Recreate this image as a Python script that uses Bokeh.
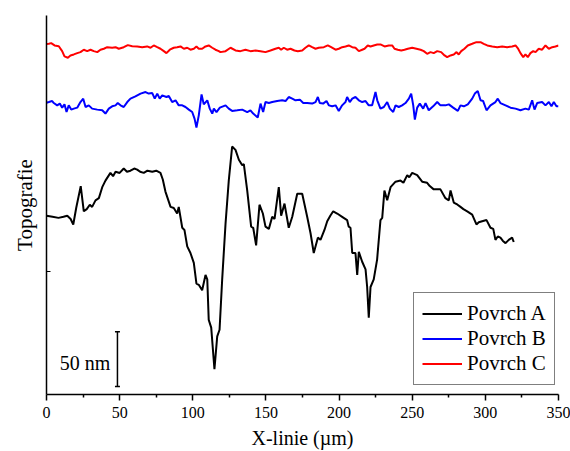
from bokeh.plotting import figure
from bokeh.models import Range1d, FixedTicker, CustomJSTickFormatter, Legend, LegendItem
from bokeh.core.properties import value
from bokeh.embed import file_html
from bokeh.resources import INLINE

FONT = "Liberation Serif"

x_ticks = [0, 50, 100, 150, 200, 250, 300, 350]
x_minor = [25, 75, 125, 175, 225, 275, 325]
series_names = ["Povrch A", "Povrch B", "Povrch C"]
series_colors = ["#000000", "#0000ff", "#ff0000"]

# Povrch A (x in um, topography in nm)
a_x = [0, 4.1, 8.2, 11.6, 14.2, 16.5, 18.3, 20.3, 23.4, 25.5,
       27.5, 29.6, 31.2, 33.5, 35.8, 38.1, 40.3, 43.7, 45.5, 47.2,
       50, 52.8, 55, 57.4, 60, 62, 64, 66.5, 69, 72.3,
       75, 77.9, 79.5, 81.3, 84.8, 87, 89.3, 90.4, 92.8, 94.3,
       96.2, 98.4, 100.7, 102.5, 104.1, 106.4, 108.7, 109.9, 110.9, 112.6,
       114.8, 116.7, 118.3, 120.1, 122.4, 124.6, 126.9, 129.2, 131.5, 133.8,
       134.9, 137.2, 139.9, 141.3, 143.3, 145.6, 147.9, 149.7, 152, 154.3,
       155.9, 158.8, 160.4, 162.7, 165.6, 168, 171.4, 174.8, 178.2, 180.5,
       182.7, 185.5, 187.3, 190, 191.9, 194, 196, 198.7, 202.1, 205.5,
       206.6, 207.8, 209, 211.2, 212.4, 213.5, 215.8, 218.1, 219.2, 220.3,
       221.5, 223.7, 226, 228.3, 229.5, 231, 232.9, 235.2, 238.6, 242,
       244, 246.6, 248, 250, 253.4, 256.8, 260.2, 262, 264.7, 269.3,
       272.7, 275, 276.2, 278.4, 281, 283, 285, 287.6, 291, 293.9,
       295.5, 297.8, 300.8, 303.5, 305.4, 306.9, 308.5, 310.3, 312, 313.8,
       316, 318.3, 319.4]
a_y = [163, 162, 161, 162, 163, 160, 155, 170, 190, 167,
       169, 173, 171, 177, 179, 189, 195, 202, 199, 203,
       202, 206, 203, 204, 206, 205, 203, 202, 204, 203,
       204, 202, 196, 185, 171, 170, 165, 171, 152, 150,
       135, 129, 120, 101, 100, 95, 109, 105, 68, 61,
       23, 53, 59, 105, 156, 195, 226, 223, 214, 209,
       210, 186, 153, 152, 136, 173, 165, 153, 151, 162,
       160, 189, 163, 174, 152, 162, 183, 183, 162, 147,
       129, 143, 141, 150, 158, 163, 167, 165, 162, 159,
       153, 152, 129, 129, 109, 130, 121, 114, 98, 70,
       98, 105, 123, 159, 161, 186, 177, 189, 194, 195,
       193, 200, 198, 202, 200, 194, 193, 190, 187, 187,
       179, 177, 186, 175, 173, 171, 169, 167, 164, 155,
       157, 158, 159, 152, 151, 141, 144, 143, 140, 138,
       141, 143, 139]

# Povrch B
b_x = [0, 1.6, 3.9, 5, 7.3, 9.1, 10.7, 12.3, 13.7, 15.2,
       16.9, 18.7, 21, 23.2, 25.1, 26.7, 28.9, 31.2, 34.7, 38.1,
       40.3, 42.6, 44.9, 47.2, 48.7, 50.6, 52.8, 55.2, 57.4, 60.8,
       64.3, 67.7, 69.9, 72.3, 74, 75.7, 77.4, 79.1, 82, 83.6,
       85.9, 88.2, 90.4, 92.8, 95, 97.3, 99.6, 101.2, 102.5, 104.1,
       106, 107.5, 109.9, 111.6, 113.3, 114.4, 116.2, 118.5, 122.4, 124.6,
       126.9, 130.4, 133.8, 137.2, 139.4, 141.3, 144.4, 146.3, 148.1, 149.7,
       152, 154.3, 157.7, 161.1, 163.4, 165.6, 168, 170.2, 173.2, 175.5,
       178.2, 181.6, 183.9, 185.5, 186.8, 189.1, 191.4, 193, 195.3, 197.6,
       199.8, 202.1, 204.4, 205.5, 207.3, 209, 211.2, 213.5, 215.8, 218.1,
       220.3, 222.6, 224.9, 226.1, 228.3, 230.6, 232.9, 234.7, 237, 238.6,
       240.8, 243.1, 245.4, 247.7, 249.3, 250.7, 251.8, 253.4, 255.2, 257.5,
       259.1, 261.3, 264.3, 267.1, 269.3, 272.7, 275, 278, 281.2, 283,
       285.3, 288, 291, 292.8, 294.8, 296.7, 298.5, 300.8, 303.5, 306.9,
       308.5, 310.3, 313.8, 317.2, 320.6, 324, 327.4, 329.7, 332, 333.6,
       335.4, 338.8, 341.1, 343.4, 345.2, 346.8, 348.6, 350]
b_y = [266, 266.6, 267.5, 265.7, 263.6, 265.2, 261.5, 264.5, 257.5, 263.6,
       259.7, 260.6, 261.5, 266.6, 269.7, 262.1, 263.6, 260.6, 259.7, 259.1,
       256.1, 260.6, 262.7, 263.6, 265.7, 263.6, 262.1, 266.6, 269.7, 271.8,
       274.3, 275.7, 274.3, 274.8, 269.7, 274.3, 269.7, 272.7, 271.2, 272.1,
       266.6, 268.2, 263.6, 263.6, 262.1, 259.7, 257.5, 251.5, 243.4, 254.5,
       273.6, 264.5, 268.2, 260.6, 256.1, 260.6, 257.5, 261.5, 263.6, 260.6,
       258.5, 259.1, 259.7, 257.5, 259.1, 256.1, 252.5, 265.2, 257.5, 266.6,
       265.7, 266.6, 267.5, 268.2, 267.5, 271.2, 269.7, 268.2, 268.8, 265.7,
       265.7, 265.2, 266.6, 271.2, 265.7, 265.2, 267.5, 263.6, 262.7, 263.6,
       258.5, 263.6, 266.6, 271.2, 266.6, 269.7, 271.2, 268.2, 266.6, 267.5,
       263.6, 263.6, 275.7, 268.2, 260.6, 262.1, 266.6, 260.6, 257.5, 263.6,
       262.1, 263.6, 265.7, 269.7, 274.3, 263.6, 250.6, 261.5, 265.2, 260.6,
       265.7, 259.1, 262.7, 266.6, 263.6, 263.6, 264.5, 261.5, 258.5, 263.6,
       262.7, 264.5, 269.7, 274.3, 276.6, 268.2, 267.5, 259.1, 263.6, 266.6,
       269.7, 265.7, 263.6, 261.5, 260.6, 259.1, 260.6, 259.7, 268.2, 259.7,
       265.7, 266.6, 263.6, 266.6, 262.7, 266.6, 262.7, 262.7]

# Povrch C
c_x = [0, 1.6, 3.2, 5.5, 8.4, 10.7, 12.3, 14.6, 16.4, 18.7,
       21, 23.2, 25.5, 27.8, 30.1, 32.3, 34.7, 36.9, 39.2, 41.5,
       44.9, 47.2, 49.4, 52.8, 55.6, 58.6, 62, 65.4, 68.8, 71.1,
       73.3, 75.7, 77.9, 80.2, 82, 84.3, 87, 89.3, 91.6, 93.9,
       96.2, 98.4, 100.7, 102.5, 104.1, 106.4, 108.7, 110.9, 113.3, 115.5,
       117.8, 118.9, 122.4, 125.8, 129.2, 132.6, 136, 139.4, 142.9, 146.3,
       149.7, 153.1, 156.5, 158.8, 160.4, 162.2, 164.5, 166.8, 169.5, 171.8,
       174.8, 177, 179.3, 181.6, 183.9, 186.1, 189.6, 192.3, 194.6, 197.6,
       199.8, 202.1, 204.4, 206.6, 209, 211.2, 213.5, 215.8, 217.4, 219.6,
       221.5, 223.7, 226.1, 228.3, 231.1, 234, 236.3, 237.9, 240.1, 242.5,
       244.7, 247, 250, 252.9, 255.7, 257.9, 260.2, 262.5, 264.7, 267.1,
       269.8, 272.1, 273.9, 276.2, 278.4, 280.3, 281.8, 283.5, 285.7, 288,
       291, 293.9, 296.7, 298.9, 301.3, 304.7, 308.1, 311.5, 314.9, 318.3,
       320.6, 322.4, 324, 325.9, 327.4, 329, 330.8, 332.7, 334.3, 336.5,
       338.8, 341.1, 343.4, 345.7, 347.9, 350]
c_y = [319.5, 319.7, 320.3, 318.2, 317.5, 313, 308.2, 307, 309.1, 310,
       311.2, 312.1, 314.3, 313, 314.3, 313, 312.1, 314.3, 315.2, 316.6,
       316.1, 316.6, 315.2, 316.6, 318.5, 317.5, 317.3, 316.6, 317.3, 316.1,
       318.2, 316.6, 315.2, 313, 311.2, 314.3, 316.1, 316.6, 317.3, 315.2,
       316.1, 314.3, 315.2, 317.3, 315.2, 315.2, 317.3, 318.2, 316.1, 314.3,
       313, 312.1, 313, 316.1, 313.6, 313, 314.3, 313, 313.6, 313,
       312.1, 313.6, 315.2, 316.1, 314.3, 316.1, 314.3, 315.2, 313.6, 313,
       313.6, 316.1, 318.2, 316.6, 315.2, 316.1, 316.6, 318.2, 316.6, 314.3,
       315.2, 316.6, 317.3, 318.2, 316.6, 316.1, 313, 314.3, 315.2, 318.2,
       317.3, 318.2, 319.1, 319.1, 317.3, 318.2, 318.2, 315.2, 314.3, 313.6,
       314.3, 315.2, 316.1, 315.2, 314.3, 313, 310.6, 312.1, 311.2, 313,
       312.1, 309.1, 307.5, 309.1, 310, 312.1, 310, 313, 315.2, 318.2,
       319.7, 321.2, 321.2, 319.7, 318.2, 317.3, 316.6, 317.3, 316.6, 317.3,
       318.2, 315.2, 311.2, 307.5, 310, 307.5, 311.2, 313, 312.1, 315.2,
       314.3, 318.2, 315.2, 316.6, 317.3, 318.2]

# scale bar
scale_x = 48.5
scale_y0 = 7.3
scale_len = 50
scale_text = "50 nm"

p = figure(width=570, height=451, output_backend="svg", toolbar_location=None,
           x_range=Range1d(0, 350), y_range=Range1d(0, 345.5),
           min_border_left=46, min_border_right=12, min_border_top=15, min_border_bottom=56,
           background_fill_color="white", border_fill_color="white")
p.outline_line_color = None
p.xgrid.visible = False
p.ygrid.visible = False

# x axis
xa = p.xaxis[0]
xa.ticker = FixedTicker(ticks=x_ticks, minor_ticks=x_minor)
xa.axis_label = "X-linie (µm)"
xa.axis_label_text_font = FONT
xa.axis_label_text_font_style = "normal"
xa.axis_label_text_font_size = "20px"
xa.axis_label_text_color = "black"
xa.axis_label_standoff = 6
xa.major_label_text_font = FONT
xa.major_label_text_font_size = "16px"
xa.major_label_text_color = "black"
xa.major_label_standoff = 6
xa.major_tick_out = 6
xa.major_tick_in = 0
xa.minor_tick_out = 3
xa.minor_tick_in = 0
xa.axis_line_color = "black"
xa.major_tick_line_color = "black"
xa.minor_tick_line_color = "black"
xa.axis_line_width = 1.5
xa.major_tick_line_width = 1.5
xa.minor_tick_line_width = 1.5

# y axis (no labels)
ya = p.yaxis[0]
ya.ticker = FixedTicker(ticks=[112], minor_ticks=[])
ya.formatter = CustomJSTickFormatter(code="return ''")
ya.axis_label = "Topografie"
ya.axis_label_text_font = FONT
ya.axis_label_text_font_style = "normal"
ya.axis_label_text_font_size = "21px"
ya.axis_label_text_color = "black"
ya.axis_label_standoff = 10
ya.major_label_standoff = 0
ya.major_tick_out = 0
ya.major_tick_in = 4
ya.axis_line_color = "black"
ya.major_tick_line_color = "black"
ya.axis_line_width = 1.5
ya.major_tick_line_width = 1.0

ra = p.line(a_x, a_y, line_color=series_colors[0], line_width=2)
rb = p.line(b_x, b_y, line_color=series_colors[1], line_width=2)
rc = p.line(c_x, c_y, line_color=series_colors[2], line_width=2)

# scale bar
p.segment(x0=[scale_x], y0=[scale_y0], x1=[scale_x], y1=[scale_y0 + scale_len],
          line_color="black", line_width=1.5)
p.segment(x0=[scale_x - 1.7, scale_x - 1.7], y0=[scale_y0, scale_y0 + scale_len],
          x1=[scale_x + 1.7, scale_x + 1.7], y1=[scale_y0, scale_y0 + scale_len],
          line_color="black", line_width=1.5)
p.text(x=[scale_x - 4.8], y=[scale_y0 + 21], text=[scale_text], text_align="right",
       text_baseline="middle", text_font=value(FONT), text_font_size="20px",
       text_color="black")

legend = Legend(items=[LegendItem(label=series_names[0], renderers=[ra]),
                       LegendItem(label=series_names[1], renderers=[rb]),
                       LegendItem(label=series_names[2], renderers=[rc])],
                location=(367, 9))
legend.label_text_font = FONT
legend.label_text_font_size = "21px"
legend.label_text_color = "black"
legend.glyph_width = 40
legend.glyph_height = 25
legend.label_height = 25
legend.label_standoff = 5
legend.spacing = 0
legend.padding = 8
legend.margin = 0
legend.border_line_color = "black"
legend.border_line_width = 1.2
legend.background_fill_alpha = 1.0
p.add_layout(legend, "center")

open("out.html", "w").write(file_html(p, INLINE))
